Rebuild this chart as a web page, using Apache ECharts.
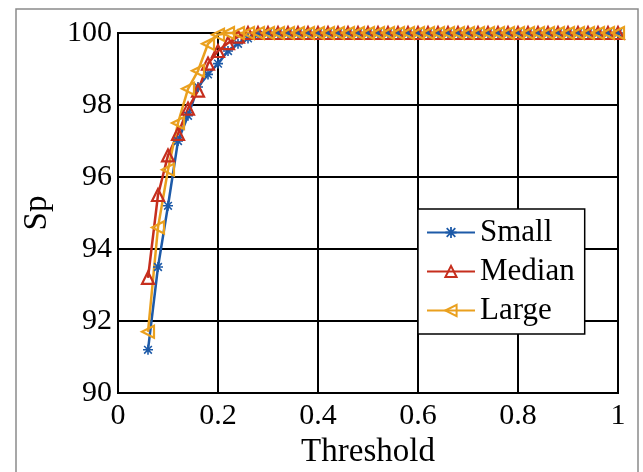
<!DOCTYPE html>
<html>
<head>
<meta charset="utf-8">
<script src="https://cdn.jsdelivr.net/npm/echarts@6/dist/echarts.min.js"></script>
<style>
  html, body { margin: 0; padding: 0; background: #fff; }
  #chart { width: 643px; height: 472px; }
</style>
</head>
<body>
<div id="chart"></div>
<script>
const thresholds = [
  0.06, 0.08, 0.10, 0.12, 0.14, 0.16, 0.18, 0.20, 0.22, 0.24, 0.26, 0.28,
  0.30, 0.32, 0.34, 0.36, 0.38, 0.40, 0.42, 0.44, 0.46, 0.48, 0.50, 0.52,
  0.54, 0.56, 0.58, 0.60, 0.62, 0.64, 0.66, 0.68, 0.70, 0.72, 0.74, 0.76,
  0.78, 0.80, 0.82, 0.84, 0.86, 0.88, 0.90, 0.92, 0.94, 0.96, 0.98, 1.00,
]

const small = [
  91.2, 93.5, 95.2, 97.0, 97.7, 98.5, 98.85, 99.15, 99.5, 99.7, 99.85, 99.95,
  100, 100, 100, 100, 100, 100, 100, 100, 100, 100, 100, 100,
  100, 100, 100, 100, 100, 100, 100, 100, 100, 100, 100, 100,
  100, 100, 100, 100, 100, 100, 100, 100, 100, 100, 100, 100,
]

const median = [
  93.2, 95.5, 96.6, 97.2, 97.9, 98.4, 99.15, 99.5, 99.72, 99.9, 100, 100,
  100, 100, 100, 100, 100, 100, 100, 100, 100, 100, 100, 100,
  100, 100, 100, 100, 100, 100, 100, 100, 100, 100, 100, 100,
  100, 100, 100, 100, 100, 100, 100, 100, 100, 100, 100, 100,
]

const large = [
  91.7, 94.6, 96.2, 97.5, 98.45, 98.95, 99.7, 99.95, 100, 100, 100, 100,
  100, 100, 100, 100, 100, 100, 100, 100, 100, 100, 100, 100,
  100, 100, 100, 100, 100, 100, 100, 100, 100, 100, 100, 100,
  100, 100, 100, 100, 100, 100, 100, 100, 100, 100, 100, 100,
]

const seriesNames = ['Small', 'Median', 'Large']

const colors = {
  small: '#1d5aa8',
  median: '#c62e1d',
  large: '#eaa01e',
  grid: '#000000',
  frame: '#8a8a8a',
}

const font = '"Liberation Serif", "Times New Roman", serif'

// asterisk-like marker (plus + cross)
const starPath = 'path://M-0.8,-5L0.8,-5L0.8,-0.8L5,-0.8L5,0.8L0.8,0.8L0.8,5L-0.8,5L-0.8,0.8L-5,0.8L-5,-0.8L-0.8,-0.8Z' +
  'M-3.3,-4.4L4.4,3.3L3.3,4.4L-4.4,-3.3ZM3.3,-4.4L4.4,-3.3L-3.3,4.4L-4.4,3.3Z'

const pairs = (ys) => thresholds.map((x, i) => [x, ys[i]])

const chart = echarts.init(document.getElementById('chart'), null, { renderer: 'canvas' })

chart.setOption({
  animation: false,
  backgroundColor: '#ffffff',
  textStyle: { fontFamily: font },
  graphic: [
    {
      type: 'rect',
      shape: { x: 16, y: 9, width: 622, height: 480 },
      style: { fill: 'none', stroke: colors.frame, lineWidth: 1.5 },
      silent: true,
    },
  ],
  grid: {
    left: 118, right: 25, top: 33, bottom: 79,
    outerBoundsMode: 'none',
    show: true,
    borderColor: colors.grid,
    borderWidth: 2,
  },
  legend: {
    data: seriesNames,
    orient: 'vertical',
    left: 418,
    top: 209,
    padding: [8, 10, 8, 8],
    itemGap: 8,
    itemWidth: 48,
    itemHeight: 14,
    backgroundColor: '#ffffff',
    borderColor: '#000000',
    borderWidth: 1.5,
    borderRadius: 0,
    textStyle: { fontFamily: font, fontSize: 31, color: '#000', lineHeight: 31 },
  },
  xAxis: {
    type: 'value',
    min: 0,
    max: 1,
    interval: 0.2,
    name: 'Threshold',
    nameLocation: 'middle',
    nameGap: 40,
    nameTextStyle: { fontFamily: font, fontSize: 33, color: '#000' },
    axisLine: { show: true, lineStyle: { color: colors.grid, width: 2 } },
    axisTick: { show: true, inside: true, length: 4, lineStyle: { color: colors.grid } },
    axisLabel: { fontFamily: font, fontSize: 30, color: '#000', margin: 8 },
    splitLine: { show: true, lineStyle: { color: colors.grid, width: 2 } },
  },
  yAxis: {
    type: 'value',
    min: 90,
    max: 100,
    interval: 2,
    name: 'Sp',
    nameLocation: 'middle',
    nameGap: 64,
    nameTextStyle: { fontFamily: font, fontSize: 33, color: '#000' },
    axisLine: { show: true, lineStyle: { color: colors.grid, width: 2 } },
    axisTick: { show: true, inside: true, length: 4, lineStyle: { color: colors.grid } },
    axisLabel: { fontFamily: font, fontSize: 30, color: '#000', margin: 6 },
    splitLine: { show: true, lineStyle: { color: colors.grid, width: 2 } },
  },
  series: [
    {
      name: 'Small',
      type: 'line',
      data: pairs(small),
      clip: false,
      symbol: starPath,
      symbolSize: 10,
      lineStyle: { color: colors.small, width: 2.5 },
      itemStyle: { color: colors.small, borderWidth: 0 },
    },
    {
      name: 'Median',
      type: 'line',
      data: pairs(median),
      clip: false,
      symbol: 'triangle',
      symbolSize: 12,
      lineStyle: { color: colors.median, width: 2.5 },
      itemStyle: { color: 'rgba(255,255,255,0)', borderColor: colors.median, borderWidth: 2.2 },
    },
    {
      name: 'Large',
      type: 'line',
      data: pairs(large),
      clip: false,
      symbol: 'triangle',
      symbolRotate: 90,
      symbolSize: 12,
      lineStyle: { color: colors.large, width: 2.5 },
      itemStyle: { color: 'rgba(255,255,255,0)', borderColor: colors.large, borderWidth: 2.2 },
    },
  ],
})
</script>
</body>
</html>
